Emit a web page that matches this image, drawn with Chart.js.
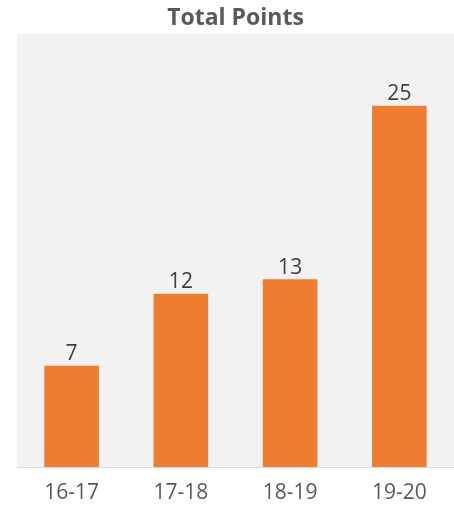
<!DOCTYPE html>
<html><head><meta charset="utf-8">
<script src="https://cdn.jsdelivr.net/npm/chart.js@4"></script>
<style>html,body{margin:0;padding:0;background:#fff}#wrap{width:454px;height:506px}</style>
</head><body><div id="wrap"><canvas id="c" width="454" height="506"></canvas></div>
<script>
const categories = ["16-17", "17-18", "18-19", "19-20"];
const totalPoints = [7, 12, 13, 25];
const chartTitle = "Total Points";

const bgPlugin = {
  id: 'plotBg',
  beforeDraw(chart) {
    const {ctx, chartArea: a} = chart;
    ctx.save();
    ctx.fillStyle = '#f2f2f2';
    ctx.fillRect(a.left, a.top, a.right - a.left, a.bottom - a.top);
    ctx.restore();
  }
};
const labelPlugin = {
  id: 'valLabels',
  afterDatasetsDraw(chart) {
    const {ctx} = chart;
    const meta = chart.getDatasetMeta(0);
    ctx.save();
    ctx.font = '21px "Open Sans"';
    ctx.fillStyle = '#404040';
    ctx.textAlign = 'center';
    ctx.textBaseline = 'bottom';
    meta.data.forEach((bar, i) => {
      ctx.fillText(String(chart.data.datasets[0].data[i]), bar.x, bar.y - 1);
    });
    ctx.restore();
  }
};

new Chart(document.getElementById('c'), {
  type: 'bar',
  data: {
    labels: categories,
    datasets: [{
      data: totalPoints,
      backgroundColor: '#ed7d31',
      barPercentage: 0.5,
      categoryPercentage: 1.0
    }]
  },
  options: {
    responsive: false,
    animation: false,
    devicePixelRatio: 1,
    layout: {padding: {left: 17, right: 0, top: 0, bottom: 0}},
    plugins: {
      legend: {display: false},
      tooltip: {enabled: false},
      title: {
        display: true,
        text: chartTitle,
        color: '#595959',
        font: {family: '"Open Sans"', size: 23, weight: 'bold'},
        padding: {top: 5, bottom: 1}
      }
    },
    scales: {
      x: {
        grid: {display: false, drawTicks: false, tickLength: 0},
        border: {display: true, color: '#d9d9d9', width: 1},
        ticks: {color: '#595959', font: {family: '"Open Sans"', size: 21}, padding: 13, maxRotation: 0},
        afterFit(scale) { scale.height = 39; }
      },
      y: {
        display: false,
        min: 0,
        max: 30
      }
    }
  },
  plugins: [bgPlugin, labelPlugin]
});
</script>
</body></html>
